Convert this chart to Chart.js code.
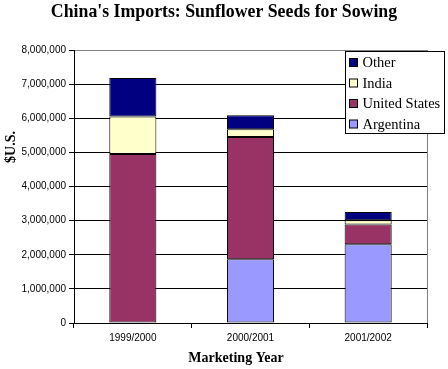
<!DOCTYPE html>
<html><head><meta charset="utf-8">
<script src="https://cdn.jsdelivr.net/npm/chart.js@4"></script>
<style>html,body{margin:0;padding:0;background:#fff}#w{width:448px;height:369px}</style>
</head><body><div id="w"><canvas id="c" width="448" height="369"></canvas></div>
<script>
const categories = ["1999/2000", "2000/2001", "2001/2002"];
const argentina = [0, 1870000, 2310000];
const unitedStates = [4950000, 3580000, 580000];
const india = [1100000, 230000, 120000];
const other = [1130000, 410000, 240000];
const yTicks = [0,1000000,2000000,3000000,4000000,5000000,6000000,7000000,8000000];
const chartTitle = "China's Imports: Sunflower Seeds for Sowing";
const xAxisTitle = 'Marketing Year';
const yAxisTitle = '$U.S.';

const serif = "'Times New Roman','Liberation Serif',serif";
const sans = "'Liberation Sans',Arial,sans-serif";

const legendPlugin = {
  id: 'boxLegend',
  afterDraw(chart) {
    const ctx = chart.ctx;
    const x0 = 345.5, y0 = 51.5, w = 99, h = 82;
    ctx.save();
    ctx.fillStyle = '#fff';
    ctx.fillRect(x0, y0, w, h);
    ctx.strokeStyle = '#000'; ctx.lineWidth = 1;
    ctx.strokeRect(x0, y0, w, h);
    const ds = chart.data.datasets.slice().reverse();
    ctx.font = "14.5px " + serif;
    ctx.textBaseline = 'middle';
    ds.forEach((d, i) => {
      const cy = y0 + 11 + i * 20.5;
      ctx.fillStyle = d.backgroundColor;
      ctx.fillRect(x0 + 4, cy - 4, 8, 8);
      ctx.strokeRect(x0 + 4, cy - 4, 8, 8);
      ctx.fillStyle = '#000';
      ctx.fillText(d.label, x0 + 17, cy + 1);
    });
    ctx.restore();
  }
};
const borderPlugin = {
  id: 'plotBorder',
  beforeDatasetsDraw(chart) {
    const a = chart.chartArea, ctx = chart.ctx;
    ctx.save();
    ctx.strokeStyle = '#808080'; ctx.lineWidth = 1;
    ctx.beginPath();
    ctx.moveTo(a.right + 0.5, a.top); ctx.lineTo(a.right + 0.5, a.bottom);
    ctx.stroke();
    ctx.restore();
  },
  afterDraw(chart) {
    const ctx = chart.ctx;
    ctx.save();
    ctx.fillStyle = '#000';
    ctx.textAlign = 'center'; ctx.textBaseline = 'middle';
    ctx.font = "bold 17.8px " + serif;
    ctx.fillText(chartTitle, 224, 12);
    ctx.font = "bold 14px " + serif;
    ctx.fillText(xAxisTitle, 236, 358);
    ctx.translate(11, 147);
    ctx.rotate(-Math.PI / 2);
    ctx.fillText(yAxisTitle, 0, 0);
    ctx.restore();
  }
};

new Chart(document.getElementById('c'), {
  type: 'bar',
  data: {
    labels: categories,
    datasets: [
      {label: 'Argentina', data: argentina, backgroundColor: '#9999FF'},
      {label: 'United States', data: unitedStates, backgroundColor: '#993366'},
      {label: 'India', data: india, backgroundColor: '#FFFFCC'},
      {label: 'Other', data: other, backgroundColor: '#000080'}
    ].map(d => Object.assign(d, {borderColor: '#000', borderWidth: 1, categoryPercentage: 1, barPercentage: 0.4, borderSkipped: false}))
  },
  options: {
    responsive: false,
    animation: false,
    devicePixelRatio: 1,
    layout: {padding: {left: 0, right: 21, top: 50, bottom: 0}},
    plugins: {
      legend: {display: false},
      tooltip: {enabled: false},
      title: {display: false}
    },
    scales: {
      x: {
        stacked: true,
        afterFit(s) { s.height = 46; },
        grid: {offset: true, drawOnChartArea: false, color: '#000', tickLength: 5},
        border: {color: '#000'},
        ticks: {color: '#000', font: {family: sans, size: 10}, padding: 4, maxRotation: 0},
        title: {display: false}
      },
      y: {
        stacked: true,
        min: 0, max: 8000000,
        afterFit(s) { s.width = 74; },
        afterBuildTicks(s) { s.ticks = yTicks.map(v => ({value: v})); },
        grid: {color: c => c.tick && c.tick.value === 8000000 ? '#808080' : '#000', tickColor: '#000', tickLength: 5},
        border: {color: '#000'},
        ticks: {color: '#000', font: {family: sans, size: 10}, padding: 3,
          callback: v => v.toLocaleString('en-US')},
        title: {display: false}
      }
    }
  },
  plugins: [borderPlugin, legendPlugin]
});
</script></body></html>
